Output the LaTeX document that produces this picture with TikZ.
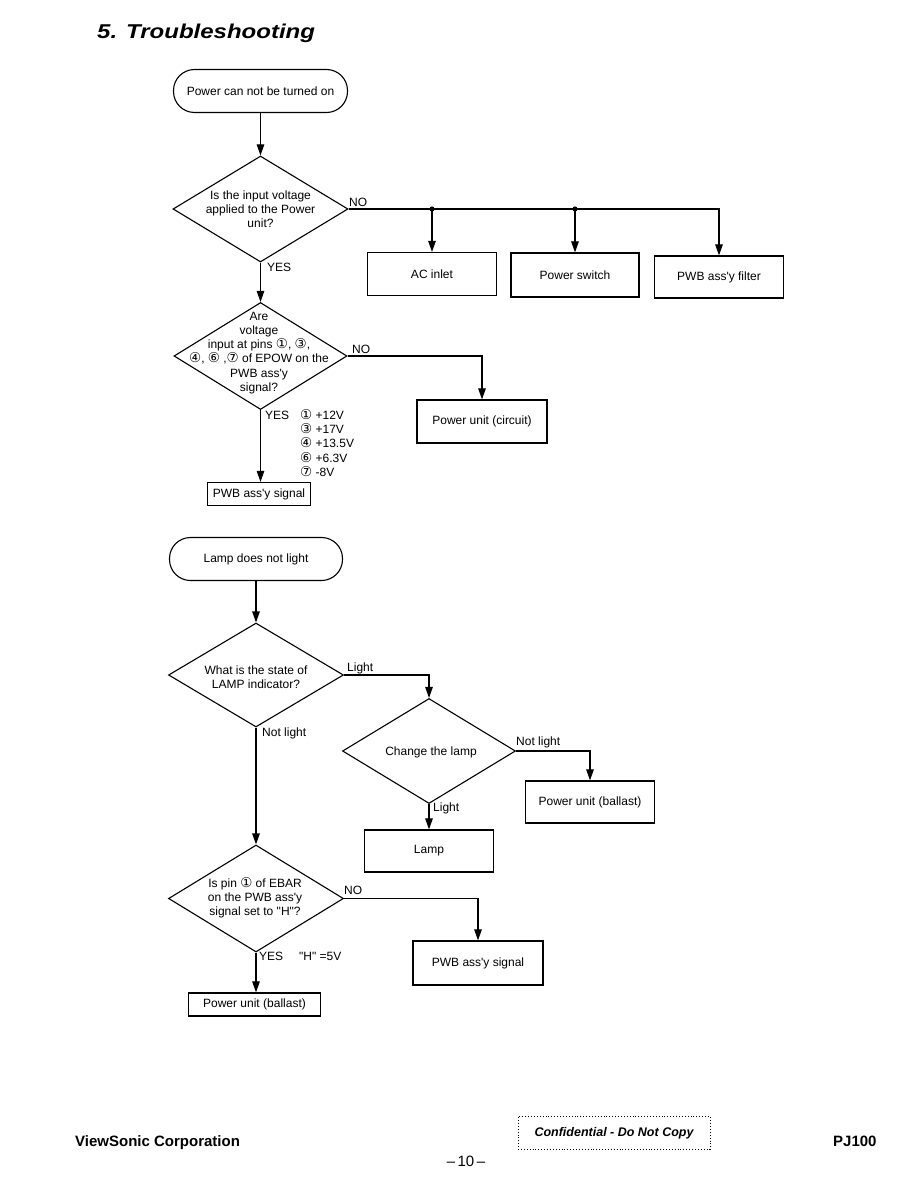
\documentclass[tikz,border=0pt]{standalone}
\usepackage{fontspec}
\setmainfont{Liberation Sans}[Ligatures=TeXOff]
\newfontfamily\circfont{DejaVu Sans}
\usetikzlibrary{shapes.geometric,arrows.meta}
\pgfdeclarelayer{edgelayer}
\pgfdeclarelayer{nodelayer}
\pgfsetlayers{edgelayer,nodelayer,main}
\newcommand{\pin}[1]{{\circfont\fontsize{13.5}{14}\selectfont #1}}
\tikzstyle{edge}=[draw=black, line width=1.1pt]
\tikzstyle{arrow}=[edge, -{Triangle[length=11pt,width=7.5pt]}]
\tikzstyle{terminal}=[rectangle, rounded corners=21pt, draw=black, fill=white, line width=1.1pt, minimum width=174pt, minimum height=43pt, font=\fontsize{12}{14}\selectfont]
\tikzstyle{decision}=[diamond, draw=black, fill=white, line width=1.1pt, inner sep=0pt]
\tikzstyle{question}=[align=center, inner sep=0pt, font=\fontsize{12}{14.2}\selectfont]
\tikzstyle{process}=[rectangle, draw=black, fill=white, line width=1.2pt, minimum width=129pt, minimum height=43pt, font=\fontsize{12}{14}\selectfont]
\tikzstyle{tag}=[anchor=west, inner sep=0pt, font=\fontsize{12}{14}\selectfont]

\begin{document}
\begin{tikzpicture}[x=1pt, y=-1pt]
\useasboundingbox (0,0) rectangle (918,1188);
\node [anchor=base west, inner sep=0pt] (title) at (97,39) {\scalebox{1.2}[1]{\fontsize{20}{24}\selectfont\bfseries\itshape 5. Troubleshooting}};
			\begin{pgfonlayer}{nodelayer}
				% power can not be turned on
				\node [style=terminal] (0) at (260.5, 91) {Power can not be turned on};
				\node [style=decision, minimum width=175pt, minimum height=106pt] (1) at (260.5, 209) {};
				\node [style=question] (1t) at (1) {Is the input voltage\\applied to the Power\\unit?};
				\node [style=process] (2) at (432, 274) {AC inlet};
				\node [style=process, minimum width=128pt, minimum height=44pt] (3) at (575, 275) {Power switch};
				\node [style=process, minimum height=42pt] (4) at (719, 277) {PWB ass'y filter};
				\node [style=decision, minimum width=173pt, minimum height=107pt] (5) at (260.5, 356) {};
				\node [style=question] (5t) at (259, 353) {Are\\voltage\\input at pins \pin{①}, \pin{③},\\\pin{④}, \pin{⑥} ,\pin{⑦} of EPOW on the\\PWB ass'y\\signal?};
				\node [style=process, minimum width=130pt] (6) at (482, 421.5) {Power unit (circuit)};
				\node [style=process, minimum width=103pt, minimum height=23pt] (7) at (259, 494) {PWB ass'y signal};
				\node [style=tag] (no1) at (349, 202) {NO};
				\node [style=tag] (yes1) at (267, 267) {YES};
				\node [style=tag] (no2) at (352, 349) {NO};
				\node [style=tag] (yes2) at (265, 415) {YES};
				\node [style=tag, align=left, font=\fontsize{12}{14.2}\selectfont] (volts) at (300, 443) {\pin{①} +12V\\\pin{③} +17V\\\pin{④} +13.5V\\\pin{⑥} +6.3V\\\pin{⑦} -8V};
				% lamp does not light
				\node [style=terminal, minimum width=173pt] (8) at (256, 559) {Lamp does not light};
				\node [style=decision, minimum width=175pt, minimum height=104pt] (9) at (256, 675) {};
				\node [style=question] (9t) at (256, 677) {What is the state of\\LAMP indicator?};
				\node [style=decision, minimum width=173pt, minimum height=105pt] (10) at (429, 751) {};
				\node [style=question] (10t) at (431, 752) {Change the lamp};
				\node [style=process, minimum height=42pt] (11) at (590, 802) {Power unit (ballast)};
				\node [style=process, minimum height=42pt] (12) at (429, 851) {Lamp};
				\node [style=decision, minimum width=175pt, minimum height=107pt] (13) at (256, 898.5) {};
				\node [style=question] (13t) at (255, 898) {Is pin \pin{①} of EBAR\\on the PWB ass'y\\signal set to "H"?};
				\node [style=process, minimum width=130pt, minimum height=44pt] (14) at (478, 963) {PWB ass'y signal};
				\node [style=process, minimum width=132pt, minimum height=23pt] (15) at (254.5, 1004.5) {Power unit (ballast)};
				\node [style=tag] (light1) at (347, 668) {Light};
				\node [style=tag] (notlight1) at (262, 733) {Not light};
				\node [style=tag] (notlight2) at (516, 742) {Not light};
				\node [style=tag] (light2) at (433, 808) {Light};
				\node [style=tag] (no3) at (344, 890) {NO};
				\node [style=tag] (yes3) at (259, 956) {YES};
				\node [style=tag] (hv) at (299, 956) {"H" =5V};
				% footer
				\node [anchor=base west, inner sep=0pt, font=\fontsize{15}{18}\selectfont\bfseries] (vs) at (75, 1146) {ViewSonic Corporation};
				\node [draw=black, dotted, line width=0.9pt, minimum width=192pt, minimum height=33pt, font=\fontsize{12.5}{15}\selectfont\bfseries\itshape] (conf) at (614, 1133) {Confidential - Do Not Copy};
				\node [anchor=base, inner sep=0pt, font=\fontsize{15}{18}\selectfont] (page) at (466, 1166) {–\,10\,–};
				\node [anchor=base west, inner sep=0pt, font=\fontsize{15}{18}\selectfont\bfseries] (model) at (833, 1146) {PJ100};
			\end{pgfonlayer}
			\begin{pgfonlayer}{edgelayer}
				\coordinate (j1) at (2 |- 1.east);
				\coordinate (j2) at (3 |- 1.east);
				\draw [style=arrow] (0) to (1);
				\draw [style=arrow] (1.east) -| (4);
				\draw [style=arrow] (j1) to (2);
				\draw [style=arrow] (j2) to (3);
				\fill (j1) circle (2.6pt) (j2) circle (2.6pt);
				\draw [style=arrow] (1) to (5);
				\draw [style=arrow] (5.east) -| (6);
				\draw [style=arrow] (5.south) to (5.south |- 7.north);
				\draw [style=arrow] (8) to (9);
				\draw [style=arrow] (9.east) -| (10);
				\draw [style=arrow] (10.east) -| (11);
				\draw [style=arrow] (10) to (12);
				\draw [style=arrow] (9) to (13);
				\draw [style=arrow] (13.east) -| (14);
				\draw [style=arrow] (13.south) to (13.south |- 15.north);
			\end{pgfonlayer}
		\end{tikzpicture}
\end{document}
